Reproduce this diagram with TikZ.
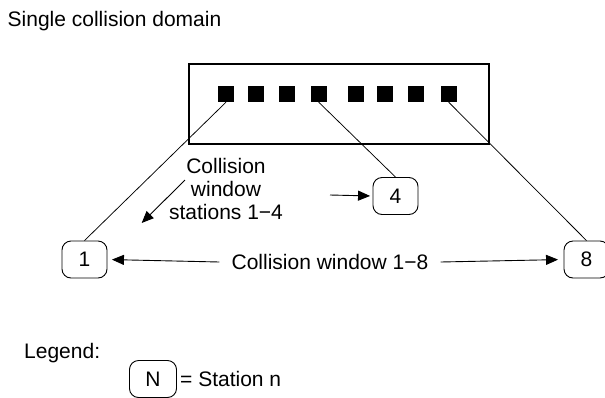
\documentclass[tikz,border=0pt]{standalone}
\usepackage{fontspec}
\setmainfont{Liberation Sans}
\usetikzlibrary{arrows.meta}
\begin{document}
\begin{tikzpicture}[x=1pt,y=-1pt,
  every node/.style={font=\fontsize{21}{23.3}\selectfont, inner sep=0pt},
  station/.style={draw, line width=0.9pt, rounded corners=9pt, minimum width=45pt, minimum height=37pt},
  port/.style={fill=black, minimum width=16pt, minimum height=16pt},
  wire/.style={line width=0.75pt},
  arr/.style={line width=0.9pt, -{Triangle[length=12pt,width=10pt]}},
  plain/.style={anchor=base west}
]
\useasboundingbox (0,0) rectangle (605,397);
\node[plain] (title) at (7.5,26.7) {Single collision domain};
\node[draw, line width=1.2pt, minimum width=300pt, minimum height=80pt] (hub) at (339,104) {};
\foreach \i/\x in {1/226,2/256.3,3/287,4/318.7,5/356.3,6/385.3,7/416.3,8/448.7}
  \node[port] (s\i) at (\x,94) {};
\node[station] (n1) at (84.5,259.5) {1};
\node[station] (n4) at (395.5,196) {4};
\node[station] (n8) at (586.5,259.5) {8};
\draw[wire] (s1.south) -- (n1.north);
\draw[wire] (s4.south) -- (n4.north);
\draw[wire] (s8.south) -- (n8.north);
\node[inner xsep=12pt] (c18) at (330,262) {Collision window 1−8};
\draw[arr, shorten >=4.5pt] (c18.west) -- (n1.east);
\draw[arr, shorten >=5.5pt] (c18.east) -- (n8.west);
\node[align=center] (cw) at (226,189) {Collision\\window\\stations 1−4};
\coordinate (d1) at (185,180);
\coordinate (d2) at (141.7,223);
\draw[arr] (d1) -- (d2);
\coordinate (a4) at (330,195);
\draw[arr, shorten >=2.5pt] (a4) -- (n4.west);
\node[plain] (leg) at (24,358) {Legend:};
\node[station, minimum width=47pt] (nN) at (153,379) {N\hspace{4pt}};
\node[plain] (legt) at (180,386.7) {= Station n};
\end{tikzpicture}
\end{document}
